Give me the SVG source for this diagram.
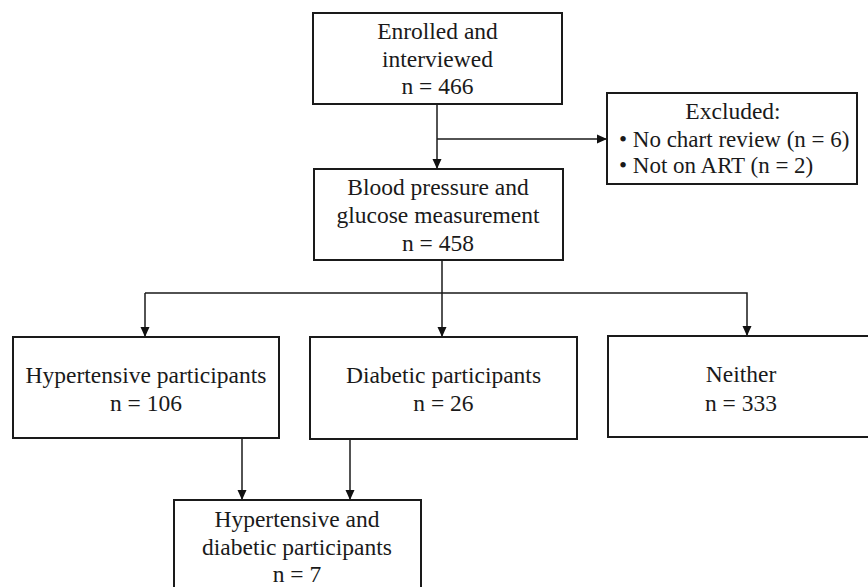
<svg xmlns="http://www.w3.org/2000/svg" width="868" height="587" viewBox="0 0 868 587">
<defs>
<marker id="ah" viewBox="0 0 10 10" refX="10" refY="5" markerWidth="10" markerHeight="10" markerUnits="userSpaceOnUse" orient="auto">
<path d="M0,0.5 L10,5 L0,9.5 Z" fill="#111"/>
</marker>
<style>
.box{fill:#fff;stroke:#1a1a1a;stroke-width:2}
.t{font-family:"Liberation Serif","Times New Roman",serif;font-size:23.5px;fill:#1a1a1a;text-anchor:middle}
.l{text-anchor:start;font-size:23px}
.c{fill:none;stroke:#1a1a1a;stroke-width:1.5}
</style>
</defs>
<rect width="868" height="587" fill="#fff"/>
<g id="connectors">
<line class="c" x1="437" y1="104" x2="437" y2="169" marker-end="url(#ah)"/>
<line class="c" x1="437" y1="139" x2="607" y2="139" marker-end="url(#ah)"/>
<line class="c" x1="442" y1="260" x2="442" y2="337" marker-end="url(#ah)"/>
<polyline class="c" points="145,293 747,293 747,336" marker-end="url(#ah)"/>
<line class="c" x1="145" y1="293" x2="145" y2="337" marker-end="url(#ah)"/>
<line class="c" x1="242" y1="439" x2="242" y2="500" marker-end="url(#ah)"/>
<line class="c" x1="350" y1="439" x2="350" y2="500" marker-end="url(#ah)"/>
</g>
<g id="enrolled">
<rect class="box" x="313" y="13" width="249" height="91"/>
<text class="t" x="437.5" y="39">Enrolled and</text>
<text class="t" x="437.5" y="67">interviewed</text>
<text class="t" x="437.5" y="94">n = 466</text>
</g>
<g id="excluded">
<rect class="box" x="607" y="93" width="250" height="91"/>
<text class="t" x="733" y="119">Excluded:</text>
<text class="t l" x="619" y="147">• No chart review (n = 6)</text>
<text class="t l" x="619" y="173">• Not on ART (n = 2)</text>
</g>
<g id="measurement">
<rect class="box" x="314" y="169" width="249" height="91"/>
<text class="t" x="438" y="195">Blood pressure and</text>
<text class="t" x="438" y="223">glucose measurement</text>
<text class="t" x="438" y="251">n = 458</text>
</g>
<g id="hypertensive">
<rect class="box" x="13" y="337" width="266" height="101"/>
<text class="t" x="146" y="383">Hypertensive participants</text>
<text class="t" x="146" y="411">n = 106</text>
</g>
<g id="diabetic">
<rect class="box" x="310" y="337" width="267" height="102"/>
<text class="t" x="443.5" y="383">Diabetic participants</text>
<text class="t" x="443.5" y="411">n = 26</text>
</g>
<g id="neither">
<rect class="box" x="608" y="336" width="262" height="101"/>
<text class="t" x="741" y="382">Neither</text>
<text class="t" x="741" y="411">n = 333</text>
</g>
<g id="both">
<rect class="box" x="174" y="500" width="247" height="100"/>
<text class="t" x="297" y="527">Hypertensive and</text>
<text class="t" x="297" y="555">diabetic participants</text>
<text class="t" x="297" y="582">n = 7</text>
</g>
</svg>
